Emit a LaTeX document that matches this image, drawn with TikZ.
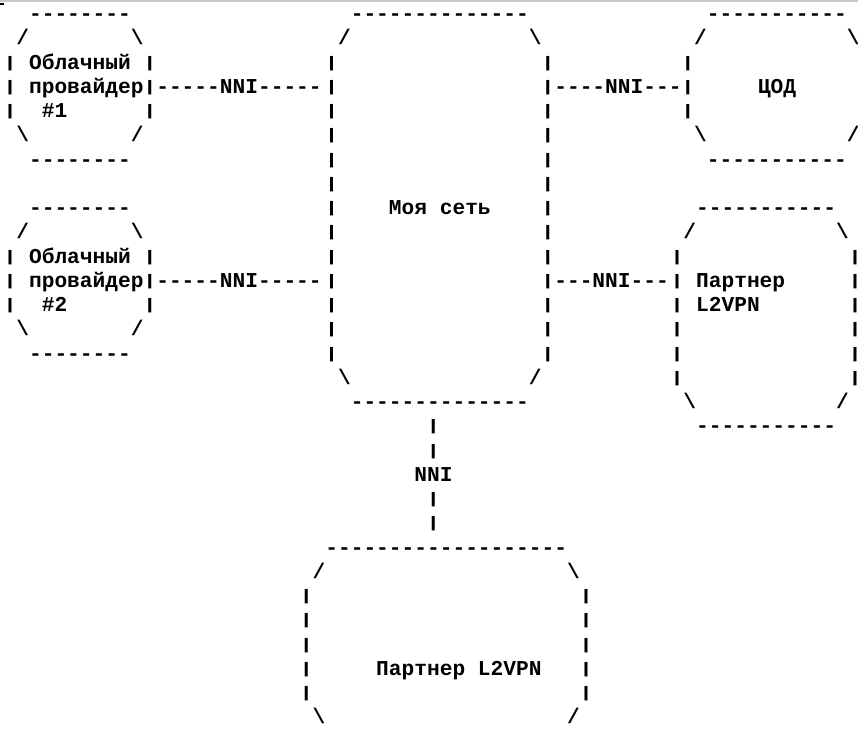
\documentclass[tikz,border=0pt]{standalone}
\usepackage{fontspec}
\setmonofont{Liberation Mono}
\definecolor{rulegray}{RGB}{200,200,200}

% character grid: cell width 12.72pt, line pitch 24.25pt
\newcommand{\cellw}{12.72}
\newcommand{\gridL}{10}
\newcommand{\gridM}{13.7}
\newcommand{\gridP}{15.6}
\newcommand{\bs}{\textbackslash}
% short vertical bar, typewriter style, kept to one cell
\newcommand{\vb}{\makebox[0.6em][c]{\raisebox{2.2pt}{\scalebox{1.1}[0.72]{|}}}}
\newcommand{\dashrun}[1]{\foreach \i in {1,...,#1}{-}}
% \seg{name}{grid origin}{column}{line}{text}
\newcommand{\seg}[5]{\node[asc] (#1) at ({#2+\cellw*#3-0.5*\cellw},{-20.7-24.25*#4}) {#5};}

\tikzset{
  asc/.style={anchor=base west, inner sep=0pt, outer sep=0pt, text=black,
    font=\ttfamily\bfseries\fontsize{21.2}{24}\selectfont},
}

\begin{document}
\begin{tikzpicture}[x=1pt,y=1pt]
\useasboundingbox (0,0) rectangle (858,-737);
\fill[white] (0,0) rectangle (858,-737);
\draw[rulegray, line width=1.5pt] (0,-1) -- (858,-1);
\fill[black] (0,-3) rectangle (4,-4.6);

% ---- cloud provider #1 ----
\seg{aTop}{\gridL}{2}{0}{\dashrun{8}}
\seg{aNW}{\gridL}{1}{1}{/}
\seg{aNE}{\gridL}{10}{1}{\bs}
\seg{aName}{\gridL}{0}{2}{\vb{} Облачный \vb}
\seg{aLink}{\gridL}{0}{3}{\vb{} провайдер\vb-----NNI-----}
\seg{aW}{\gridL}{0}{4}{\vb}
\seg{aNum}{\gridL}{3}{4}{\#1}
\seg{aE}{\gridL}{11}{4}{\vb}
\seg{aSW}{\gridL}{1}{5}{\bs}
\seg{aSE}{\gridL}{10}{5}{/}
\seg{aBot}{\gridL}{2}{6}{\dashrun{8}}

% ---- cloud provider #2 ----
\seg{bTop}{\gridL}{2}{8}{\dashrun{8}}
\seg{bNW}{\gridL}{1}{9}{/}
\seg{bNE}{\gridL}{10}{9}{\bs}
\seg{bName}{\gridL}{0}{10}{\vb{} Облачный \vb}
\seg{bLink}{\gridL}{0}{11}{\vb{} провайдер\vb-----NNI-----}
\seg{bW}{\gridL}{0}{12}{\vb}
\seg{bNum}{\gridL}{3}{12}{\#2}
\seg{bE}{\gridL}{11}{12}{\vb}
\seg{bSW}{\gridL}{1}{13}{\bs}
\seg{bSE}{\gridL}{10}{13}{/}
\seg{bBot}{\gridL}{2}{14}{\dashrun{8}}

% ---- own network ----
\seg{netTop}{\gridM}{27}{0}{\dashrun{14}}
\seg{netNW}{\gridM}{26}{1}{/}
\seg{netNE}{\gridM}{41}{1}{\bs}
\foreach \l in {2,...,14} {\seg{netW\l}{\gridM}{25}{\l}{\vb}}
\foreach \l in {2,4,5,6,7,8,9,10,12,13,14} {\seg{netE\l}{\gridM}{42}{\l}{\vb}}
\seg{netLabel}{\gridM}{30}{8}{Моя сеть}
\seg{netSW}{\gridM}{26}{15}{\bs}
\seg{netSE}{\gridM}{41}{15}{/}
\seg{netBot}{\gridM}{27}{16}{\dashrun{14}}

% ---- data centre ----
\seg{dcTop}{\gridM}{55}{0}{\dashrun{11}}
\seg{dcNW}{\gridM}{54}{1}{/}
\seg{dcNE}{\gridM}{66}{1}{\bs}
\seg{dcW2}{\gridM}{53}{2}{\vb}
\seg{dcLink}{\gridM}{42}{3}{\vb----NNI---\vb}
\seg{dcName}{\gridM}{59}{3}{ЦОД}
\seg{dcW4}{\gridM}{53}{4}{\vb}
\seg{dcSW}{\gridM}{54}{5}{\bs}
\seg{dcSE}{\gridM}{66}{5}{/}
\seg{dcBot}{\gridM}{55}{6}{\dashrun{11}}

% ---- L2VPN partner, right ----
\seg{prTop}{\gridP}{54}{8}{\dashrun{11}}
\seg{prNW}{\gridP}{53}{9}{/}
\seg{prNE}{\gridP}{65}{9}{\bs}
\foreach \l in {10,13,14,15} {\seg{prW\l}{\gridP}{52}{\l}{\vb}}
\foreach \l in {10,...,15} {\seg{prE\l}{\gridP}{66}{\l}{\vb}}
\seg{prLink}{\gridM}{42}{11}{\vb---NNI---}
\seg{prName}{\gridP}{52}{11}{\vb{} Партнер}
\seg{prName2}{\gridP}{52}{12}{\vb{} L2VPN}
\seg{prSW}{\gridP}{53}{16}{\bs}
\seg{prSE}{\gridP}{65}{16}{/}
\seg{prBot}{\gridP}{54}{17}{\dashrun{11}}

% ---- downlink ----
\foreach \l in {17,18,20,21} {\seg{up\l}{\gridM}{33}{\l}{\vb}}
\seg{upLabel}{\gridM}{32}{19}{NNI}

% ---- L2VPN partner, bottom ----
\seg{pbTop}{\gridM}{25}{22}{\dashrun{19}}
\seg{pbNW}{\gridM}{24}{23}{/}
\seg{pbNE}{\gridM}{44}{23}{\bs}
\foreach \l in {24,...,28} {\seg{pbW\l}{\gridM}{23}{\l}{\vb}\seg{pbE\l}{\gridM}{45}{\l}{\vb}}
\seg{pbName}{\gridM}{29}{27}{Партнер L2VPN}
\seg{pbSW}{\gridM}{24}{29}{\bs}
\seg{pbSE}{\gridM}{44}{29}{/}
\end{tikzpicture}
\end{document}
